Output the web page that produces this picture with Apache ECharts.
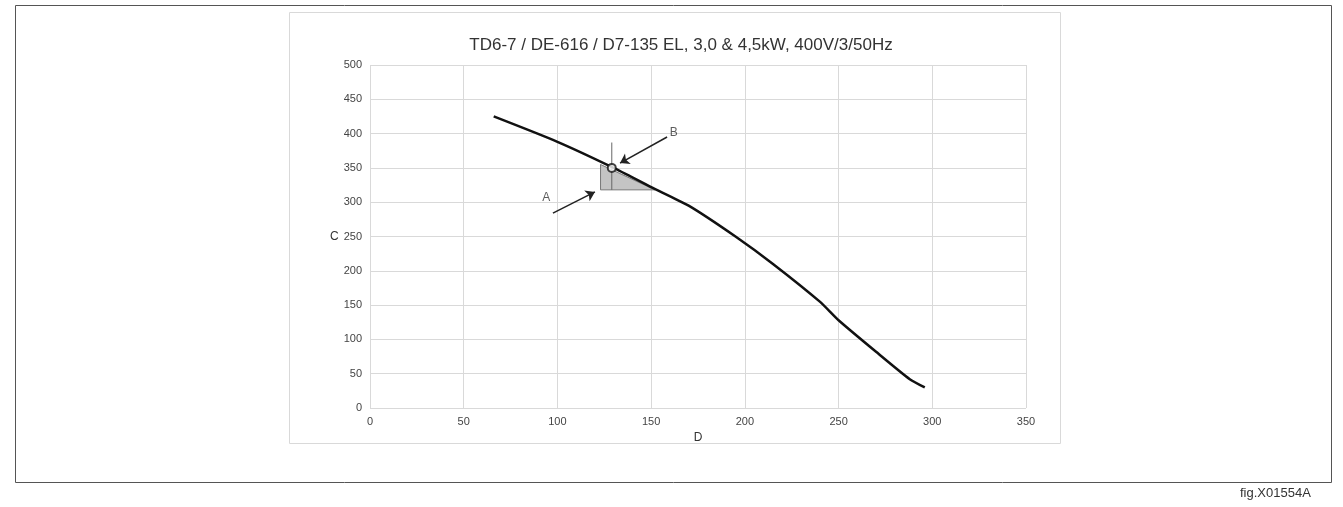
<!DOCTYPE html><html><head><meta charset="utf-8">
<script src="https://cdn.jsdelivr.net/npm/echarts@6/dist/echarts.min.js"></script>
<style>html,body{margin:0;padding:0;background:#fff}#c{width:1343px;height:507px}</style></head><body><div id="c"></div>
<script>
const curveX=[66,100,130,150,170,195,215,240,250,270,288,296];
const curveY=[425,388,350,322,295,250,210,155,128,82,42,30];
const shadeX=[123,123,152];
const shadeY=[355,318,318];
const markerPt=[129,350];
const vLine=[[129,318],[129,387]];
const arrowA=[[97.6,284],[120,315]];
const arrowB=[[158.5,395],[133.4,357]];
const labels=[{name:'A',x:94,y:306},{name:'B',x:162,y:401}];
const ch=echarts.init(document.getElementById('c'));
ch.setOption({
 animation:false,
 graphic:[
  {type:'rect',shape:{x:15.5,y:5.5,width:1316,height:477},style:{fill:'none',stroke:'#555',lineWidth:1},z:-1},
  {type:'rect',shape:{x:289.5,y:12.5,width:771,height:431},style:{fill:'none',stroke:'#d9d9d9',lineWidth:1},z:-1},
  {type:'text',left:1240,top:487,style:{text:'fig.X01554A',font:'13px Liberation Sans',fill:'#333'}}
 ],
 title:{text:'TD6-7 / DE-616 / D7-135 EL, 3,0 & 4,5kW, 400V/3/50Hz',left:676,top:32,textAlign:'center',
  textStyle:{fontFamily:'Liberation Sans',fontWeight:'normal',fontSize:17,color:'#333'}},
 grid:{left:370,right:317,top:65,bottom:99},
 xAxis:{type:'value',min:0,max:350,interval:50,name:'D',nameLocation:'middle',nameGap:20,
  nameTextStyle:{fontFamily:'Liberation Sans',fontSize:12,color:'#333'},
  axisLine:{show:false},axisTick:{show:false},
  axisLabel:{fontFamily:'Liberation Sans',fontSize:11,color:'#444'},splitLine:{lineStyle:{color:'#d9d9d9'}}},
 yAxis:{type:'value',min:0,max:500,interval:50,name:'C',nameLocation:'middle',nameGap:27,nameRotate:0,
  nameTextStyle:{fontFamily:'Liberation Sans',fontSize:12,color:'#333'},
  axisLine:{show:false},axisTick:{show:false},
  axisLabel:{fontFamily:'Liberation Sans',fontSize:11,color:'#444'},splitLine:{lineStyle:{color:'#d9d9d9'}}},
 series:[
  {type:'custom',renderItem:function(p,api){
     const pts=shadeX.map((x,i)=>api.coord([x,shadeY[i]]));
     return {type:'polygon',shape:{points:pts},style:{fill:'#c4c4c4',stroke:'#777',lineWidth:1}};
   },data:[[0,0]],z:2},
  {type:'line',data:vLine,symbol:'none',lineStyle:{color:'#666',width:1},z:3},
  {type:'line',data:curveX.map((x,i)=>[x,curveY[i]]),symbol:'none',smooth:0.2,lineStyle:{color:'#111',width:2.5},z:4,
   markLine:{silent:true,symbol:['none','arrow'],symbolSize:9,label:{show:false},lineStyle:{color:'#222',width:1.5,type:'solid'},
    data:[[{coord:arrowA[0]},{coord:arrowA[1]}],[{coord:arrowB[0]},{coord:arrowB[1]}]]}},
  {type:'scatter',data:[markerPt],symbol:'circle',symbolSize:8,itemStyle:{color:'#fff',borderColor:'#111',borderWidth:2},z:5},
  {type:'scatter',data:labels.map(l=>({value:[l.x,l.y],name:l.name})),symbolSize:0,
   label:{show:true,formatter:'{b}',position:'inside',fontFamily:'Liberation Sans',fontSize:12,color:'#333'},z:5}
 ]
});
</script></body></html>
